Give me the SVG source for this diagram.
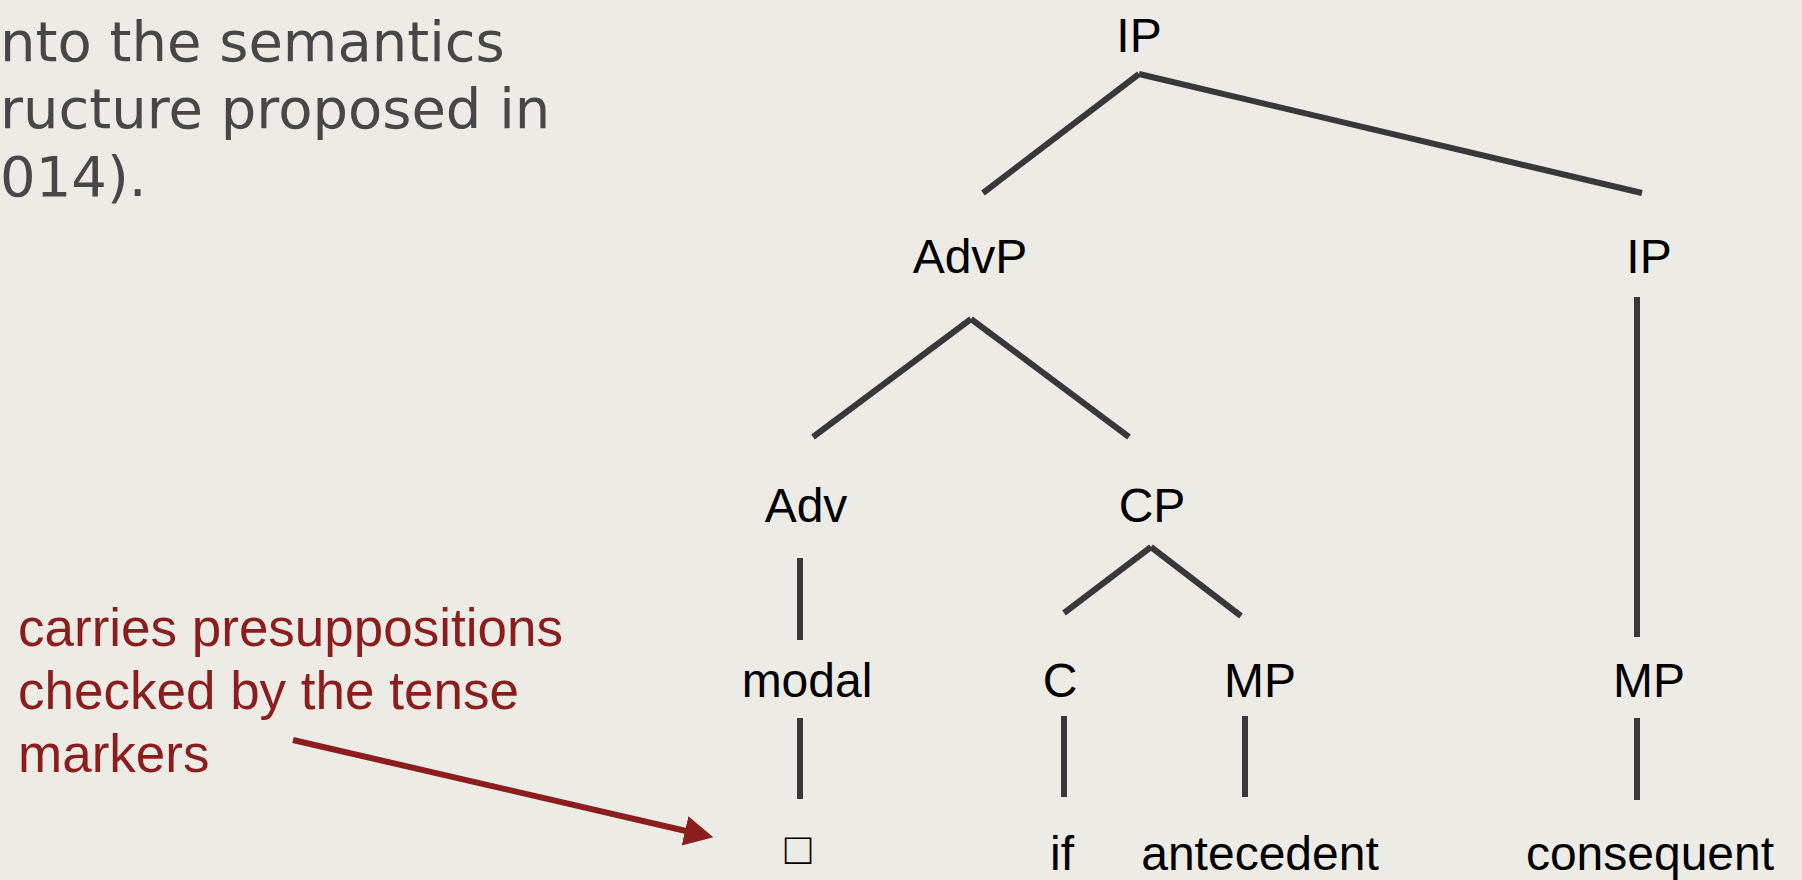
<svg xmlns="http://www.w3.org/2000/svg" width="1802" height="880" viewBox="0 0 1802 880">
<style>
.bg{fill:#ecebe6}
.intro{font-family:"DejaVu Sans",sans-serif;font-size:56px;fill:#474747}
.note{font-family:"Liberation Sans",Arial,sans-serif;font-size:53px;fill:#8b1d1d}
.lbl{font-family:"Liberation Sans",Arial,sans-serif;font-size:48px;fill:#000;text-anchor:middle}
.edge{stroke:#38383a;stroke-width:6;fill:none}
.arrow{stroke:#8b1d1d;stroke-width:6;fill:none}
</style>
<defs>
<marker id="ah" markerUnits="userSpaceOnUse" markerWidth="34" markerHeight="34" refX="1" refY="15" orient="auto">
<path d="M0,0 L29,15 L0,30 Z" fill="#8b1d1d"/>
</marker>
</defs>
<rect class="bg" x="0" y="0" width="1802" height="880"/>
<g id="intro">
<text class="intro" x="0" y="61">nto the semantics</text>
<text class="intro" x="0" y="128">ructure proposed in</text>
<text class="intro" x="0" y="196">014).</text>
</g>
<g id="note">
<text class="note" x="18" y="646">carries presuppositions</text>
<text class="note" x="18" y="709">checked by the tense</text>
<text class="note" x="18" y="772">markers</text>
</g>
<g id="connectors">
<line class="edge" x1="1139" y1="74" x2="983" y2="193"/>
<line class="edge" x1="1139" y1="74" x2="1642" y2="193"/>
<line class="edge" x1="1637" y1="297" x2="1637" y2="637"/>
<line class="edge" x1="971" y1="319" x2="813" y2="437"/>
<line class="edge" x1="971" y1="319" x2="1129" y2="437"/>
<line class="edge" x1="800" y1="558" x2="800" y2="640"/>
<line class="edge" x1="1151" y1="547" x2="1064" y2="613"/>
<line class="edge" x1="1151" y1="547" x2="1241" y2="616"/>
<line class="edge" x1="800" y1="718" x2="800" y2="799"/>
<line class="edge" x1="1064" y1="716" x2="1064" y2="797"/>
<line class="edge" x1="1245" y1="716" x2="1245" y2="797"/>
<line class="edge" x1="1637" y1="718" x2="1637" y2="800"/>
<line class="arrow" x1="293" y1="740" x2="686" y2="831" marker-end="url(#ah)"/>
</g>
<g id="n-ip"><text class="lbl" x="1139" y="52">IP</text></g>
<g id="n-advp"><text class="lbl" x="970" y="273">AdvP</text></g>
<g id="n-ip2"><text class="lbl" x="1649" y="273">IP</text></g>
<g id="n-adv"><text class="lbl" x="806" y="522">Adv</text></g>
<g id="n-cp"><text class="lbl" x="1152" y="522">CP</text></g>
<g id="n-modal"><text class="lbl" x="807" y="697">modal</text></g>
<g id="n-c"><text class="lbl" x="1060" y="697">C</text></g>
<g id="n-mp1"><text class="lbl" x="1260" y="697">MP</text></g>
<g id="n-mp2"><text class="lbl" x="1649" y="697">MP</text></g>
<g id="n-box"><text class="lbl" x="798" y="864" style="font-size:44px">□</text></g>
<g id="n-if"><text class="lbl" x="1062" y="870">if</text></g>
<g id="n-ante"><text class="lbl" x="1260" y="870">antecedent</text></g>
<g id="n-cons"><text class="lbl" x="1650" y="870">consequent</text></g>
</svg>
